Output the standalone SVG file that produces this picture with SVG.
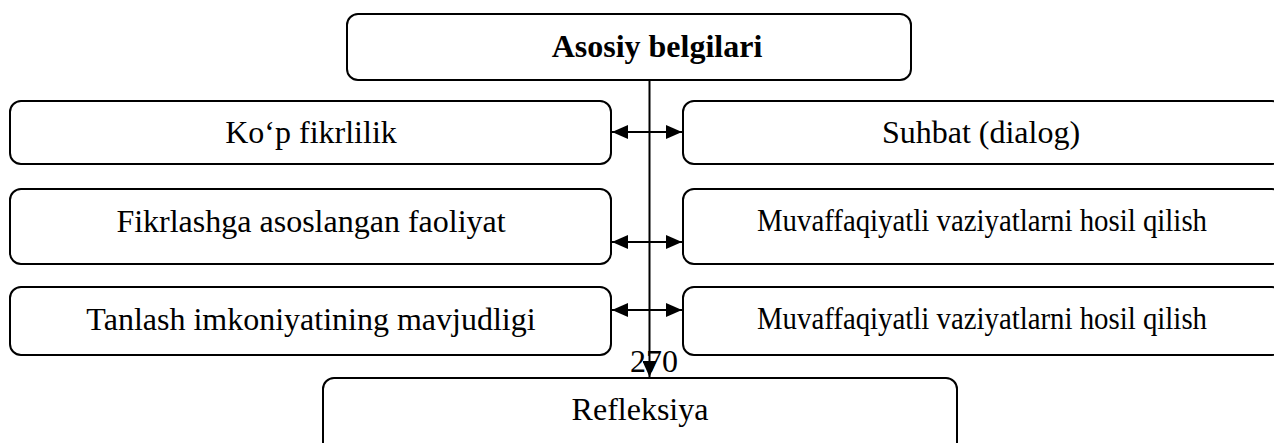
<svg xmlns="http://www.w3.org/2000/svg" width="1274" height="443" viewBox="0 0 1274 443">
<style>
.box{fill:#fff;stroke:#000;stroke-width:2}
.t{font-family:'Liberation Serif','Times New Roman',Tinos,'DejaVu Serif',serif;font-size:32px;fill:#000;text-anchor:middle}
.b{font-weight:bold}
.c{stroke:#000;stroke-width:2;fill:none}
</style>
<defs>
<marker id="ah" viewBox="0 0 16 14" refX="16" refY="7" markerWidth="16" markerHeight="14" markerUnits="userSpaceOnUse" orient="auto-start-reverse">
<path d="M0,0 L16,7 L0,14 Z" fill="#000"/>
</marker>
</defs>
<rect width="1274" height="443" fill="#fff"/>
<g id="n-top"><rect class="box" x="347" y="14" width="564" height="66" rx="11"/><text class="t b" x="657" y="57">Asosiy belgilari</text></g>
<g id="n-l1"><rect class="box" x="10" y="101" width="601" height="63" rx="11"/><text class="t" x="311" y="143">Ko‘p fikrlilik</text></g>
<g id="n-r1"><rect class="box" x="683" y="101" width="600" height="63" rx="11"/><text class="t" x="981" y="143">Suhbat (dialog)</text></g>
<g id="n-l2"><rect class="box" x="10" y="189" width="601" height="75" rx="11"/><text class="t" x="311" y="232">Fikrlashga asoslangan faoliyat</text></g>
<g id="n-r2"><rect class="box" x="683" y="189" width="600" height="75" rx="11"/><text class="t" x="982" y="231" textLength="450" lengthAdjust="spacingAndGlyphs">Muvaffaqiyatli vaziyatlarni hosil qilish</text></g>
<g id="n-l3"><rect class="box" x="10" y="287" width="601" height="68" rx="11"/><text class="t" x="311" y="330">Tanlash imkoniyatining mavjudligi</text></g>
<g id="n-r3"><rect class="box" x="683" y="287" width="600" height="68" rx="11"/><text class="t" x="982" y="329" textLength="450" lengthAdjust="spacingAndGlyphs">Muvaffaqiyatli vaziyatlarni hosil qilish</text></g>
<g id="n-bottom"><rect class="box" x="323" y="378" width="634" height="80" rx="11"/><text class="t" x="640" y="420">Refleksiya</text></g>
<text class="t" x="654" y="372">270</text>
<g id="connectors">
<line class="c" x1="649.5" y1="80" x2="649.5" y2="377" marker-end="url(#ah)"/>
<line class="c" x1="612" y1="132" x2="682" y2="132" marker-start="url(#ah)" marker-end="url(#ah)"/>
<line class="c" x1="612" y1="242" x2="682" y2="242" marker-start="url(#ah)" marker-end="url(#ah)"/>
<line class="c" x1="612" y1="310" x2="682" y2="310" marker-start="url(#ah)" marker-end="url(#ah)"/>
</g>
</svg>
